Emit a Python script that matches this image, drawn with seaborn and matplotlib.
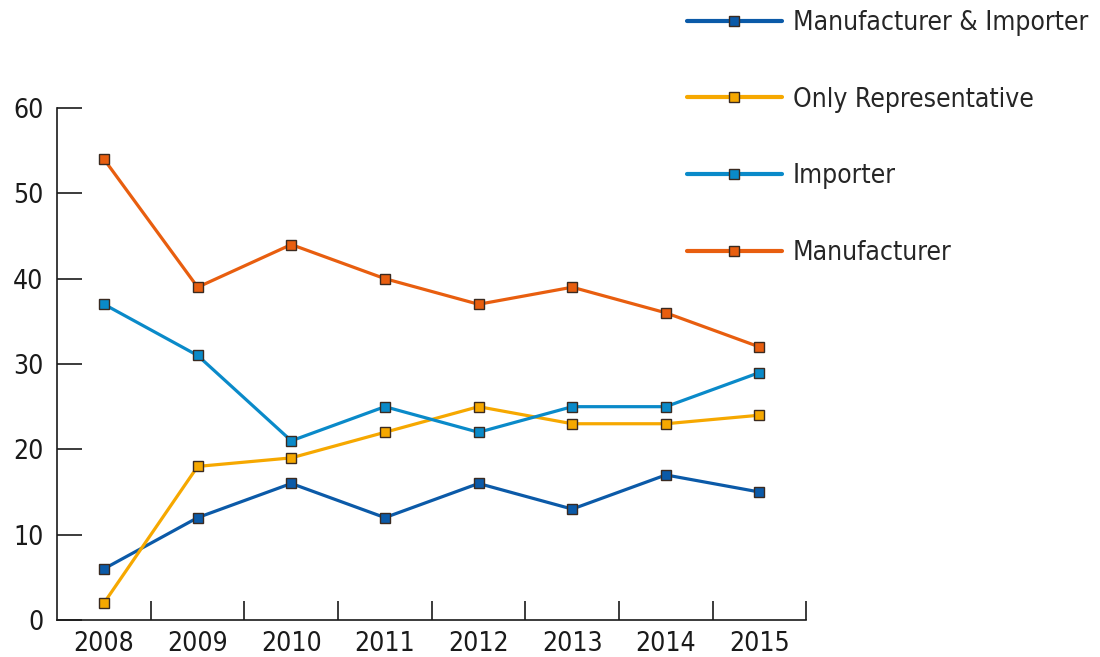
import numpy as np
import pandas as pd
import matplotlib
matplotlib.use("Agg")
import matplotlib.pyplot as plt
import seaborn as sns

# data
years = ["2008", "2009", "2010", "2011", "2012", "2013", "2014", "2015"]
series_names = ["Manufacturer & Importer", "Only Representative", "Importer", "Manufacturer"]
manuf_importer = [6, 12, 16, 12, 16, 13, 17, 15]
only_rep = [2, 18, 19, 22, 25, 23, 23, 24]
importer = [37, 31, 21, 25, 22, 25, 25, 29]
manufacturer = [54, 39, 44, 40, 37, 39, 36, 32]
colors = ["#0b5aa8", "#f6a800", "#0a8ac9", "#e85e0f"]

values = [manuf_importer, only_rep, importer, manufacturer]
df = pd.DataFrame({
    "x": np.tile(np.arange(len(years)), len(series_names)),
    "value": np.concatenate(values),
    "series": np.repeat(series_names, len(years)),
})

sns.set_style("white")
plt.rcParams["font.family"] = ["DejaVu Sans"]
plt.rcParams["font.stretch"] = "condensed"

fig = plt.figure(figsize=(11, 6.57), dpi=100)
ax = fig.add_axes([0.052, 0.0563, 0.681, 0.7793])

sns.lineplot(data=df, x="x", y="value", hue="series", hue_order=series_names,
             palette=colors, marker="s", markersize=7.5, markeredgecolor="#3a2a20",
             markeredgewidth=1.0, linewidth=2.3, dashes=False, ax=ax)

ax.set_xlim(-0.5, len(years) - 0.5)
ax.set_ylim(0, 60)
ax.set_xlabel("")
ax.set_ylabel("")

# years as labels, tick marks between categories
ax.set_xticks(np.arange(len(years)))
ax.set_xticklabels(years, fontsize=19, fontstretch="condensed")
ax.set_xticks(np.arange(len(years)) + 0.5, minor=True)
ax.tick_params(axis="x", which="major", bottom=True, length=0, pad=8)
ax.tick_params(axis="x", which="minor", bottom=True, direction="in", length=14, width=1.2)
ax.set_yticks(range(0, 61, 10))
ax.tick_params(axis="y", left=True, direction="in", length=18, width=1.2, labelsize=19, pad=10)
ax.tick_params(colors="#1a1a1a", which="both")

for s in ["top", "right"]:
    ax.spines[s].set_visible(False)
for s in ["left", "bottom"]:
    ax.spines[s].set_color("#1a1a1a")
    ax.spines[s].set_linewidth(1.2)

leg = ax.legend(loc="upper left", bbox_to_anchor=(0.6245, 0.985),
                bbox_transform=fig.transFigure, frameon=False,
                borderpad=0, borderaxespad=0,
                handlelength=3.6, handletextpad=0.4, labelspacing=1.92,
                prop={"size": 19, "stretch": "condensed"})
for h in leg.legend_handles:
    h.set_linewidth(3)

fig.savefig("out.png", dpi=100)
